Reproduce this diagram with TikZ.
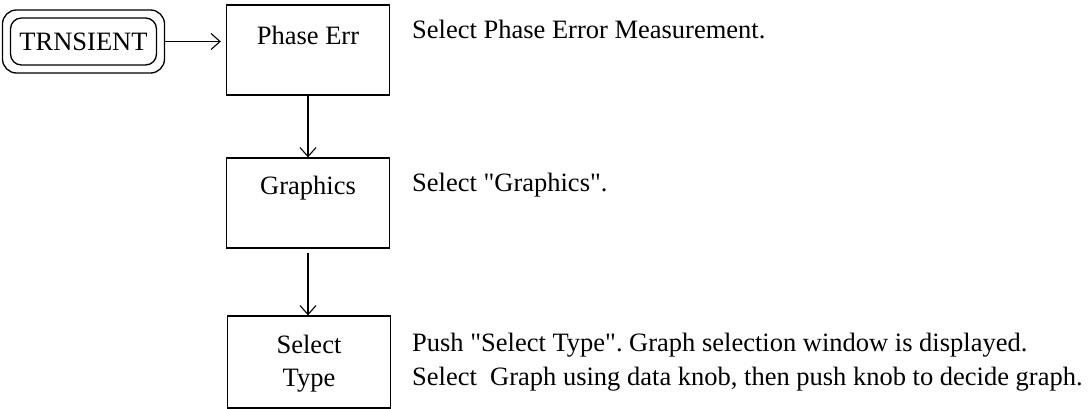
\documentclass[tikz,border=0pt]{standalone}
\usepackage{fontspec}
\setmainfont{Liberation Serif}[Ligatures=TeXOff]
\usetikzlibrary{arrows.meta}
\begin{document}
\begin{tikzpicture}[x=1pt,y=-1pt,
  box/.style={draw, line width=1.3pt, inner sep=0pt},
  lbl/.style={font=\fontsize{26.5}{32}\selectfont, inner sep=0pt, anchor=base},
  desc/.style={font=\fontsize{26.5}{32}\selectfont\frenchspacing, inner sep=0pt, anchor=base west},
  conn/.style={line width=1.1pt, -{Straight Barb[length=9pt,width=16pt,line width=1.1pt]}}]
\useasboundingbox (0,0) rectangle (1088,409);
% TRNSIENT double rounded box
\node[box, rounded corners=14pt, minimum width=162pt, minimum height=63pt] (tro) at (83.5,41.5) {};
\node[box, rounded corners=11pt, minimum width=146pt, minimum height=47pt] (tri) at (83.5,41.5) {};
\node[lbl] (trt) at (83.5,51) {TRNSIENT};
% boxes
\node[box, minimum width=163pt, minimum height=90pt] (pe) at (308,50) {};
\node[lbl] (pet) at (308,45) {Phase Err};
\node[box, minimum width=163pt, minimum height=90pt] (gr) at (308,203) {};
\node[lbl] (grt) at (308,195) {Graphics};
\node[box, minimum width=163pt, minimum height=92pt] (st) at (309,362) {};
\node[lbl] (st1) at (309,353) {Select};
\node[lbl] (st2) at (309,386) {Type};
% connectors
\draw[conn, shorten >=5pt] (tro.east) -- (tro.east -| pe.west);
\draw[conn] (pe.south) -- (gr.north);
\draw[conn, shorten <=4pt] (gr.south) -- (gr.south |- st.north);
% descriptions
\node[desc] (d1) at (412,39) {Select Phase Error Measurement.};
\node[desc] (d2) at (412,192) {Select "Graphics".};
\node[desc] (d3) at (412,351) {Push "Select Type". Graph selection window is displayed.};
\node[desc] (d4) at (412,385) {Select\ \ Graph using data knob, then push knob to decide graph.};
\end{tikzpicture}
\end{document}
